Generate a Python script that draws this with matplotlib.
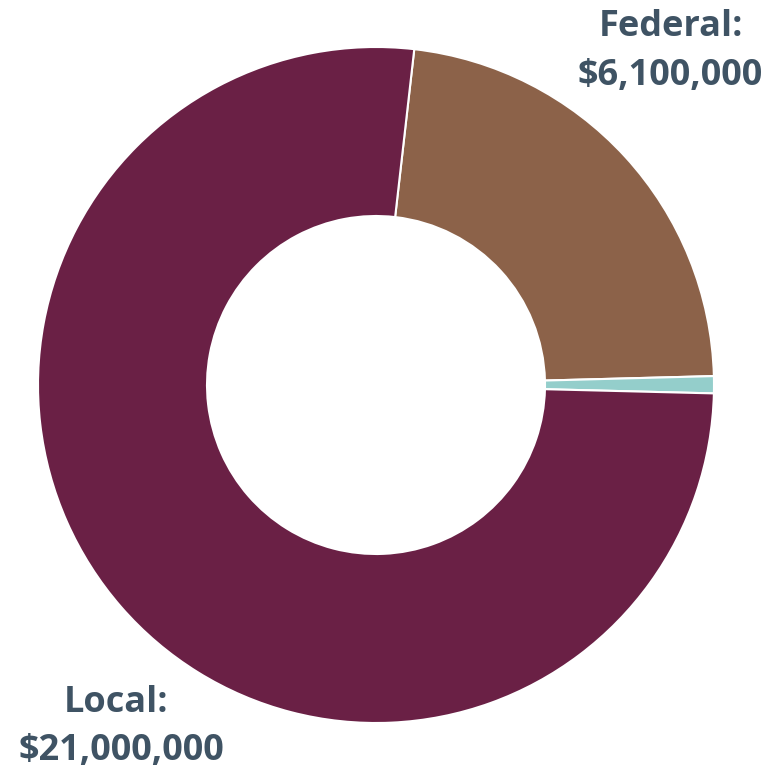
import matplotlib
matplotlib.use("Agg")
import matplotlib.pyplot as plt

# funding sources, drawn clockwise starting with federal
# (wedge sizes, labels as printed)
sources = ["Federal", "State", "Local"]
amounts = [6140000, 220000, 20600000]
colors = ["#8C6249", "#94CECB", "#6A2045"]
labels = {"Federal": "$6,100,000", "Local": "$21,000,000"}

W, H = 771, 770
cx, cy, rad = 376, 385, 338

fig = plt.figure(figsize=(W / 100, H / 100), dpi=100)
axis = fig.add_axes(
    [(cx - rad) / W, (H - cy - rad) / H, 2 * rad / W, 2 * rad / H]
)
axis.pie(
    amounts,
    colors=colors,
    startangle=90 - 6.5,
    counterclock=False,
    radius=1,
    wedgeprops={"width": 0.5, "edgecolor": "white", "linewidth": 1.5},
)
axis.set_xlim(-1, 1)
axis.set_ylim(-1, 1)
axis.set_aspect("equal")
axis.axis("off")

txt = {"color": "#3F5364", "fontsize": 26, "fontweight": "bold",
       "family": ["Open Sans", "DejaVu Sans"], "ha": "center", "va": "baseline"}
fig.text(671 / W, 1 - 36 / H, "Federal:", **txt)
fig.text(670 / W, 1 - 85 / H, labels["Federal"], **txt)
fig.text(116 / W, 1 - 712 / H, "Local:", **txt)
fig.text(121 / W, 1 - 760 / H, labels["Local"], **txt)

fig.savefig("out.png", dpi=100)
plt.close()
